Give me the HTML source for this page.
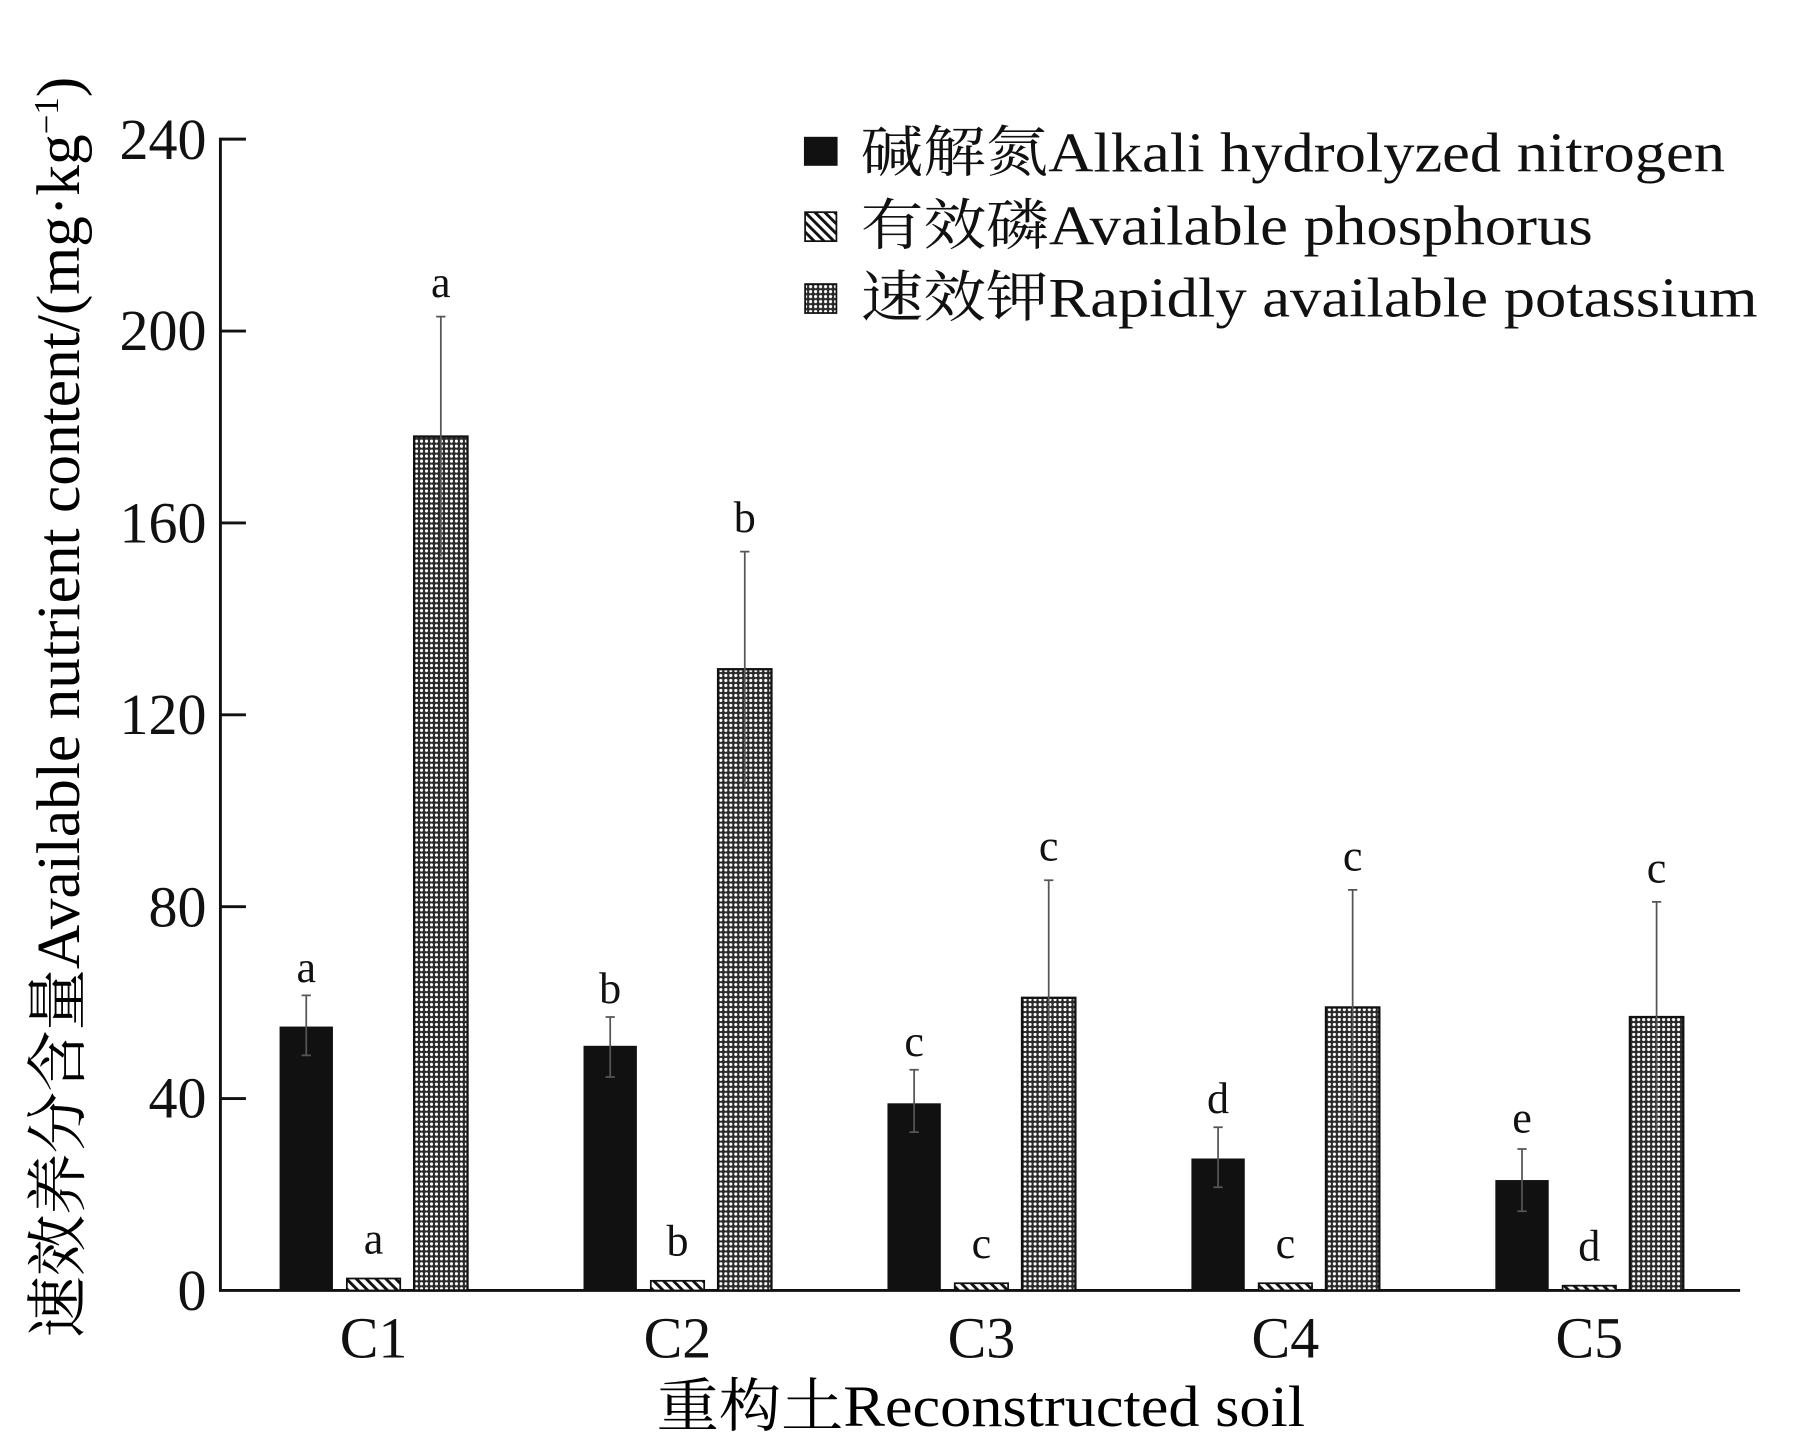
<!DOCTYPE html>
<html><head><meta charset="utf-8"><style>html,body{margin:0;padding:0;background:#fff}svg{display:block}</style></head>
<body>
<svg width="1819" height="1440" viewBox="0 0 1568 1242" preserveAspectRatio="none" xmlns="http://www.w3.org/2000/svg" font-family="'Liberation Serif','Noto Serif CJK SC',serif">
<defs>
<pattern id="mesh" width="4.3" height="4.3" patternUnits="userSpaceOnUse">
<rect width="4.3" height="4.3" fill="#2a2a2a"/><circle cx="2.15" cy="2.15" r="1.35" fill="#fff"/>
</pattern>
<pattern id="hatch" width="6" height="6" patternUnits="userSpaceOnUse" patternTransform="rotate(-45)">
<rect width="6" height="6" fill="#fff"/><rect width="2.5" height="6" fill="#111"/>
</pattern>
</defs>
<g stroke="#111" stroke-width="2.5" fill="none">
<path d="M212 120 H190 V1113 H1500"/>
<path d="M190 285.5 H212 M190 451 H212 M190 616.5 H212 M190 782 H212 M190 947.5 H212"/>
</g>
<g font-size="50" text-anchor="end" fill="#111">
<text x="178" y="137">240</text><text x="178" y="302">200</text><text x="178" y="468">160</text>
<text x="178" y="633">120</text><text x="178" y="799">80</text><text x="178" y="964">40</text><text x="178" y="1130">0</text>
</g>

<g fill="#111">
<rect x="241" y="885.4" width="46" height="227.6"/>
<rect x="503" y="902.0" width="46" height="211.0"/>
<rect x="765" y="951.6" width="46" height="161.4"/>
<rect x="1027" y="999.2" width="46" height="113.8"/>
<rect x="1289" y="1017.8" width="46" height="95.2"/>
</g>
<g fill="url(#hatch)" stroke="#111" stroke-width="1.5">
<rect x="299" y="1102.7" width="46" height="10.3"/>
<rect x="561" y="1104.7" width="46" height="8.3"/>
<rect x="823" y="1106.8" width="46" height="6.2"/>
<rect x="1085" y="1106.8" width="46" height="6.2"/>
<rect x="1347" y="1108.9" width="46" height="4.1"/>
</g>
<g fill="url(#mesh)" stroke="#111" stroke-width="2">
<rect x="357" y="376.5" width="46" height="736.5"/>
<rect x="619" y="577.2" width="46" height="535.8"/>
<rect x="881" y="860.6" width="46" height="252.4"/>
<rect x="1143" y="868.9" width="46" height="244.1"/>
<rect x="1405" y="877.2" width="46" height="235.8"/>
</g>
<g stroke="#555" stroke-width="1.5" fill="none">
<path d="M264 858.5V910.3M260 858.5h8M260 910.3h8"/>
<path d="M526 877.2V928.9M522 877.2h8M522 928.9h8"/>
<path d="M788 922.7V976.5M784 922.7h8M784 976.5h8"/>
<path d="M1050 972.3V1024.0M1046 972.3h8M1046 1024.0h8"/>
<path d="M1312 991.0V1044.7M1308 991.0h8M1308 1044.7h8"/>
<path d="M380 273.1V480.0M376 273.1h8"/>
<path d="M642 475.8V678.6M638 475.8h8"/>
<path d="M904 759.2V964.0M900 759.2h8"/>
<path d="M1166 767.5V970.3M1162 767.5h8"/>
<path d="M1428 777.9V976.5M1424 777.9h8"/>
</g>
<g font-size="38" text-anchor="middle" fill="#111">
<text x="264" y="847">a</text><text x="322" y="1081">a</text><text x="380" y="256">a</text>
<text x="526" y="865">b</text><text x="584" y="1083">b</text><text x="642" y="459">b</text>
<text x="788" y="911">c</text><text x="846" y="1085">c</text><text x="904" y="742">c</text>
<text x="1050" y="960">d</text><text x="1108" y="1085">c</text><text x="1166" y="751">c</text>
<text x="1312" y="977">e</text><text x="1370" y="1087">d</text><text x="1428" y="761">c</text>
</g>
<g font-size="50" text-anchor="middle" fill="#111">
<text x="322" y="1171">C1</text><text x="584" y="1171">C2</text><text x="846" y="1171">C3</text><text x="1108" y="1171">C4</text><text x="1370" y="1171">C5</text>
</g>
<text x="566" y="1230" font-size="50" textLength="559" lengthAdjust="spacingAndGlyphs">重构土Reconstructed soil</text>
<text transform="translate(68,610) rotate(-90)" font-size="53" text-anchor="middle">速效养分含量Available nutrient content/(mg·kg<tspan dy="-18" font-size="30">−1</tspan><tspan dy="18">)</tspan></text>
<rect x="693" y="118" width="29" height="25" fill="#111"/>
<rect x="694" y="183" width="27" height="25" fill="url(#hatch)" stroke="#111" stroke-width="1.5"/>
<rect x="694" y="245" width="27" height="25" fill="url(#mesh)" stroke="#111" stroke-width="1.5"/>
<g font-size="48" fill="#111">
<text x="742" y="148" textLength="745" lengthAdjust="spacingAndGlyphs">碱解氮Alkali hydrolyzed nitrogen</text>
<text x="742" y="211" textLength="631" lengthAdjust="spacingAndGlyphs">有效磷Available phosphorus</text>
<text x="742" y="273" textLength="773" lengthAdjust="spacingAndGlyphs">速效钾Rapidly available potassium</text>
</g>
</svg>
</body></html>
